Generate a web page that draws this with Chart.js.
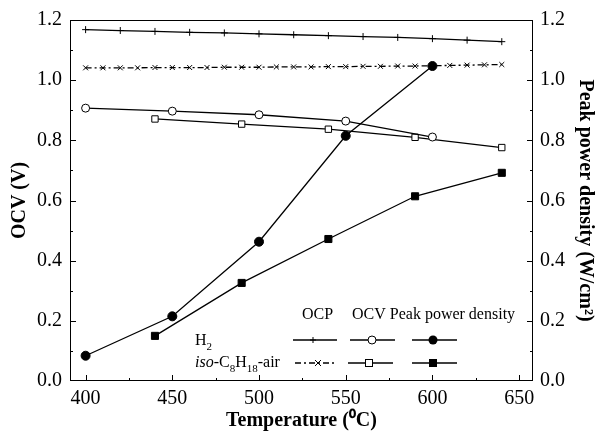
<!DOCTYPE html>
<html>
<head>
<meta charset="utf-8">
<script src="https://cdn.jsdelivr.net/npm/chart.js@4/dist/chart.umd.min.js"></script>
<style>
  html, body { margin: 0; padding: 0; background: #fff; }
  #wrap { width: 600px; height: 442px; }
</style>
</head>
<body>
<div id="wrap"><canvas id="ocvChart" width="600" height="442"></canvas></div>
<script>
// --- data ---
const xTicks = [400, 450, 500, 550, 600, 650];
const yTicks = [0.0, 0.2, 0.4, 0.6, 0.8, 1.0, 1.2];

// OCP, H2 (+ markers)
const ocpH2Temp = [400, 420, 440, 460, 480, 500, 520, 540, 560, 580, 600, 620, 640];
const ocpH2 = [1.168, 1.165, 1.162, 1.159, 1.157, 1.154, 1.151, 1.148, 1.145, 1.142, 1.138, 1.133, 1.128];

// OCP, iso-C8H18-air (x markers)
const ocpIsoTemp = [400, 410, 420, 430, 440, 450, 460, 470, 480, 490, 500, 510, 520, 530, 540, 550, 560, 570, 580, 590, 600, 610, 620, 630, 640];
const ocpIso = [1.041, 1.041, 1.041, 1.041, 1.042, 1.042, 1.042, 1.042, 1.043, 1.043, 1.043, 1.044, 1.044, 1.044, 1.045, 1.045, 1.046, 1.046, 1.047, 1.047, 1.048, 1.049, 1.050, 1.051, 1.052];

// OCV and peak power density
const h2Temp = [400, 450, 500, 550, 600];
const ocvH2 = [0.907, 0.897, 0.885, 0.864, 0.811];
const ppdH2 = [0.084, 0.215, 0.463, 0.815, 1.047];

const isoTemp = [440, 490, 540, 590, 640];
const ocvIso = [0.871, 0.854, 0.837, 0.810, 0.776];
const ppdIso = [0.150, 0.326, 0.472, 0.614, 0.692];

const pts = (xs, ys) => xs.map((x, i) => ({ x: x, y: ys[i] }));

const serif = "'Liberation Serif', 'Times New Roman', serif";

// frame, inward ticks and the hand-laid legend
const framePlugin = {
    id: 'frame',
    afterDraw(chart) {
        const ctx = chart.ctx;
        const a = chart.chartArea;
        const sx = chart.scales.x, sy = chart.scales.y, sy1 = chart.scales.y1;
        ctx.save();
        ctx.strokeStyle = '#000';
        ctx.lineWidth = 1;
        ctx.strokeRect(a.left + 0.5, a.top + 0.5, a.right - a.left - 1, a.bottom - a.top - 1);

        ctx.beginPath();
        // x ticks (major 50, minor 25)
        for (let v = 400; v <= 650; v += 25) {
            const px = Math.round(sx.getPixelForValue(v)) + 0.5;
            const len = (v % 50 === 0) ? 6 : 3;
            ctx.moveTo(px, a.bottom);
            ctx.lineTo(px, a.bottom - len);
        }
        // y ticks both sides (major 0.2, minor 0.1)
        for (let i = 1; i < 12; i++) {
            const v = i / 10;
            const len = (i % 2 === 0) ? 6 : 3;
            const py = Math.round(sy.getPixelForValue(v)) + 0.5;
            ctx.moveTo(a.left, py); ctx.lineTo(a.left + len, py);
            const py1 = Math.round(sy1.getPixelForValue(v)) + 0.5;
            ctx.moveTo(a.right, py1); ctx.lineTo(a.right - len, py1);
        }
        ctx.stroke();

        // legend
        ctx.fillStyle = '#000';
        ctx.font = '16px ' + serif;
        ctx.textBaseline = 'middle';
        ctx.fillText('OCP', 302, 315);
        ctx.fillText('OCV Peak power density', 352, 315);

        // row labels
        ctx.fillText('H', 195, 341);
        let w = ctx.measureText('H').width;
        ctx.font = '11px ' + serif;
        ctx.fillText('2', 195 + w, 347);

        let x = 195;
        const row2 = 363;
        const parts = [
            ['italic 16px', 'iso', 0], ['16px', '-C', 0], ['11px', '8', 6],
            ['16px', 'H', 0], ['11px', '18', 6], ['16px', '-air', 0]
        ];
        parts.forEach(p => {
            ctx.font = p[0] + ' ' + serif;
            ctx.fillText(p[1], x, row2 + p[2]);
            x += ctx.measureText(p[1]).width;
        });

        const row1 = 340;
        const seg = (x1, x2, y, dash) => {
            ctx.beginPath();
            ctx.setLineDash(dash || []);
            ctx.lineWidth = 1.5;
            ctx.moveTo(x1, y); ctx.lineTo(x2, y);
            ctx.stroke();
            ctx.setLineDash([]);
            ctx.lineWidth = 1;
        };
        // OCP samples
        seg(293, 337, row1);
        ctx.beginPath(); ctx.moveTo(310, row1); ctx.lineTo(316, row1); ctx.moveTo(313, row1 - 3); ctx.lineTo(313, row1 + 3); ctx.stroke();
        seg(295, 335, row2, [6, 3, 2, 3]);
        ctx.beginPath(); ctx.moveTo(315, row2 - 3); ctx.lineTo(321, row2 + 3); ctx.moveTo(321, row2 - 3); ctx.lineTo(315, row2 + 3); ctx.stroke();
        // OCV samples
        seg(350, 395, row1);
        ctx.beginPath(); ctx.arc(372, row1, 4, 0, Math.PI * 2); ctx.fillStyle = '#fff'; ctx.fill(); ctx.stroke();
        seg(348, 393, row2);
        ctx.fillStyle = '#fff'; ctx.fillRect(365.5, row2 - 3.5, 7, 7); ctx.strokeRect(365.5, row2 - 3.5, 7, 7);
        // Peak power samples
        ctx.fillStyle = '#000';
        seg(412, 457, row1);
        ctx.beginPath(); ctx.arc(433, row1, 4.5, 0, Math.PI * 2); ctx.fill();
        seg(412, 457, row2);
        ctx.fillRect(429, row2 - 4, 8, 8);
        ctx.restore();
    }
};

const lineDs = (data, style, fill, axis, extra) => Object.assign({
    data: data,
    yAxisID: axis,
    borderColor: '#000',
    borderWidth: 1.3,
    pointStyle: style,
    pointRadius: 4,
    pointBorderColor: '#000',
    pointBorderWidth: 1,
    pointBackgroundColor: fill,
    tension: 0,
    fill: false
}, extra || {});

new Chart(document.getElementById('ocvChart').getContext('2d'), {
    type: 'line',
    data: {
        datasets: [
            lineDs(pts(ocpH2Temp, ocpH2), 'cross', '#000', 'y', { pointRadius: 3.5 }),
            lineDs(pts(ocpIsoTemp, ocpIso), 'crossRot', '#000', 'y', { pointRadius: 3.5, borderDash: [6, 3, 2, 3] }),
            lineDs(pts(h2Temp, ocvH2), 'circle', '#fff', 'y'),
            lineDs(pts(isoTemp, ocvIso), 'rect', '#fff', 'y', { pointRadius: 4.5 }),
            lineDs(pts(h2Temp, ppdH2), 'circle', '#000', 'y1', { pointRadius: 4.5 }),
            lineDs(pts(isoTemp, ppdIso), 'rect', '#000', 'y1', { pointRadius: 5 })
        ]
    },
    options: {
        responsive: false,
        animation: false,
        layout: { padding: { top: 17, left: 0, right: 0, bottom: 0 } },
        plugins: { legend: { display: false }, tooltip: { enabled: false } },
        scales: {
            x: {
                type: 'linear',
                min: 391,
                max: 658,
                grid: { display: false, drawTicks: false },
                border: { display: false },
                afterBuildTicks: s => { s.ticks = xTicks.map(v => ({ value: v })); },
                afterFit: s => { s.height = 61; },
                ticks: { color: '#000', padding: 6, font: { family: serif, size: 20 }, maxRotation: 0 },
                title: {
                    display: true, text: 'Temperature (\u2070C)', color: '#000',
                    font: { family: serif, size: 20, weight: 'bold' }, padding: { top: 0, bottom: 9 }
                }
            },
            y: {
                position: 'left',
                min: 0,
                max: 1.2,
                grid: { display: false, drawTicks: false },
                border: { display: false },
                afterBuildTicks: s => { s.ticks = yTicks.map(v => ({ value: v })); },
                afterFit: s => { s.width = 70; },
                ticks: { color: '#000', padding: 8, font: { family: serif, size: 20 }, callback: v => v.toFixed(1) },
                title: {
                    display: true, text: 'OCV (V)', color: '#000',
                    font: { family: serif, size: 20, weight: 'bold' }, padding: { top: 8, bottom: 0 }
                }
            },
            y1: {
                position: 'right',
                min: 0,
                max: 1.2,
                grid: { display: false, drawTicks: false },
                border: { display: false },
                afterBuildTicks: s => { s.ticks = yTicks.map(v => ({ value: v })); },
                afterFit: s => { s.width = 67; },
                ticks: { color: '#000', padding: 7, font: { family: serif, size: 20 }, callback: v => v.toFixed(1) },
                title: {
                    display: true, text: 'Peak power density (W/cm\u00b2)', color: '#000',
                    font: { family: serif, size: 20, weight: 'bold' }, padding: { top: 3, bottom: 0 }
                }
            }
        }
    },
    plugins: [framePlugin]
});
</script>
</body>
</html>
